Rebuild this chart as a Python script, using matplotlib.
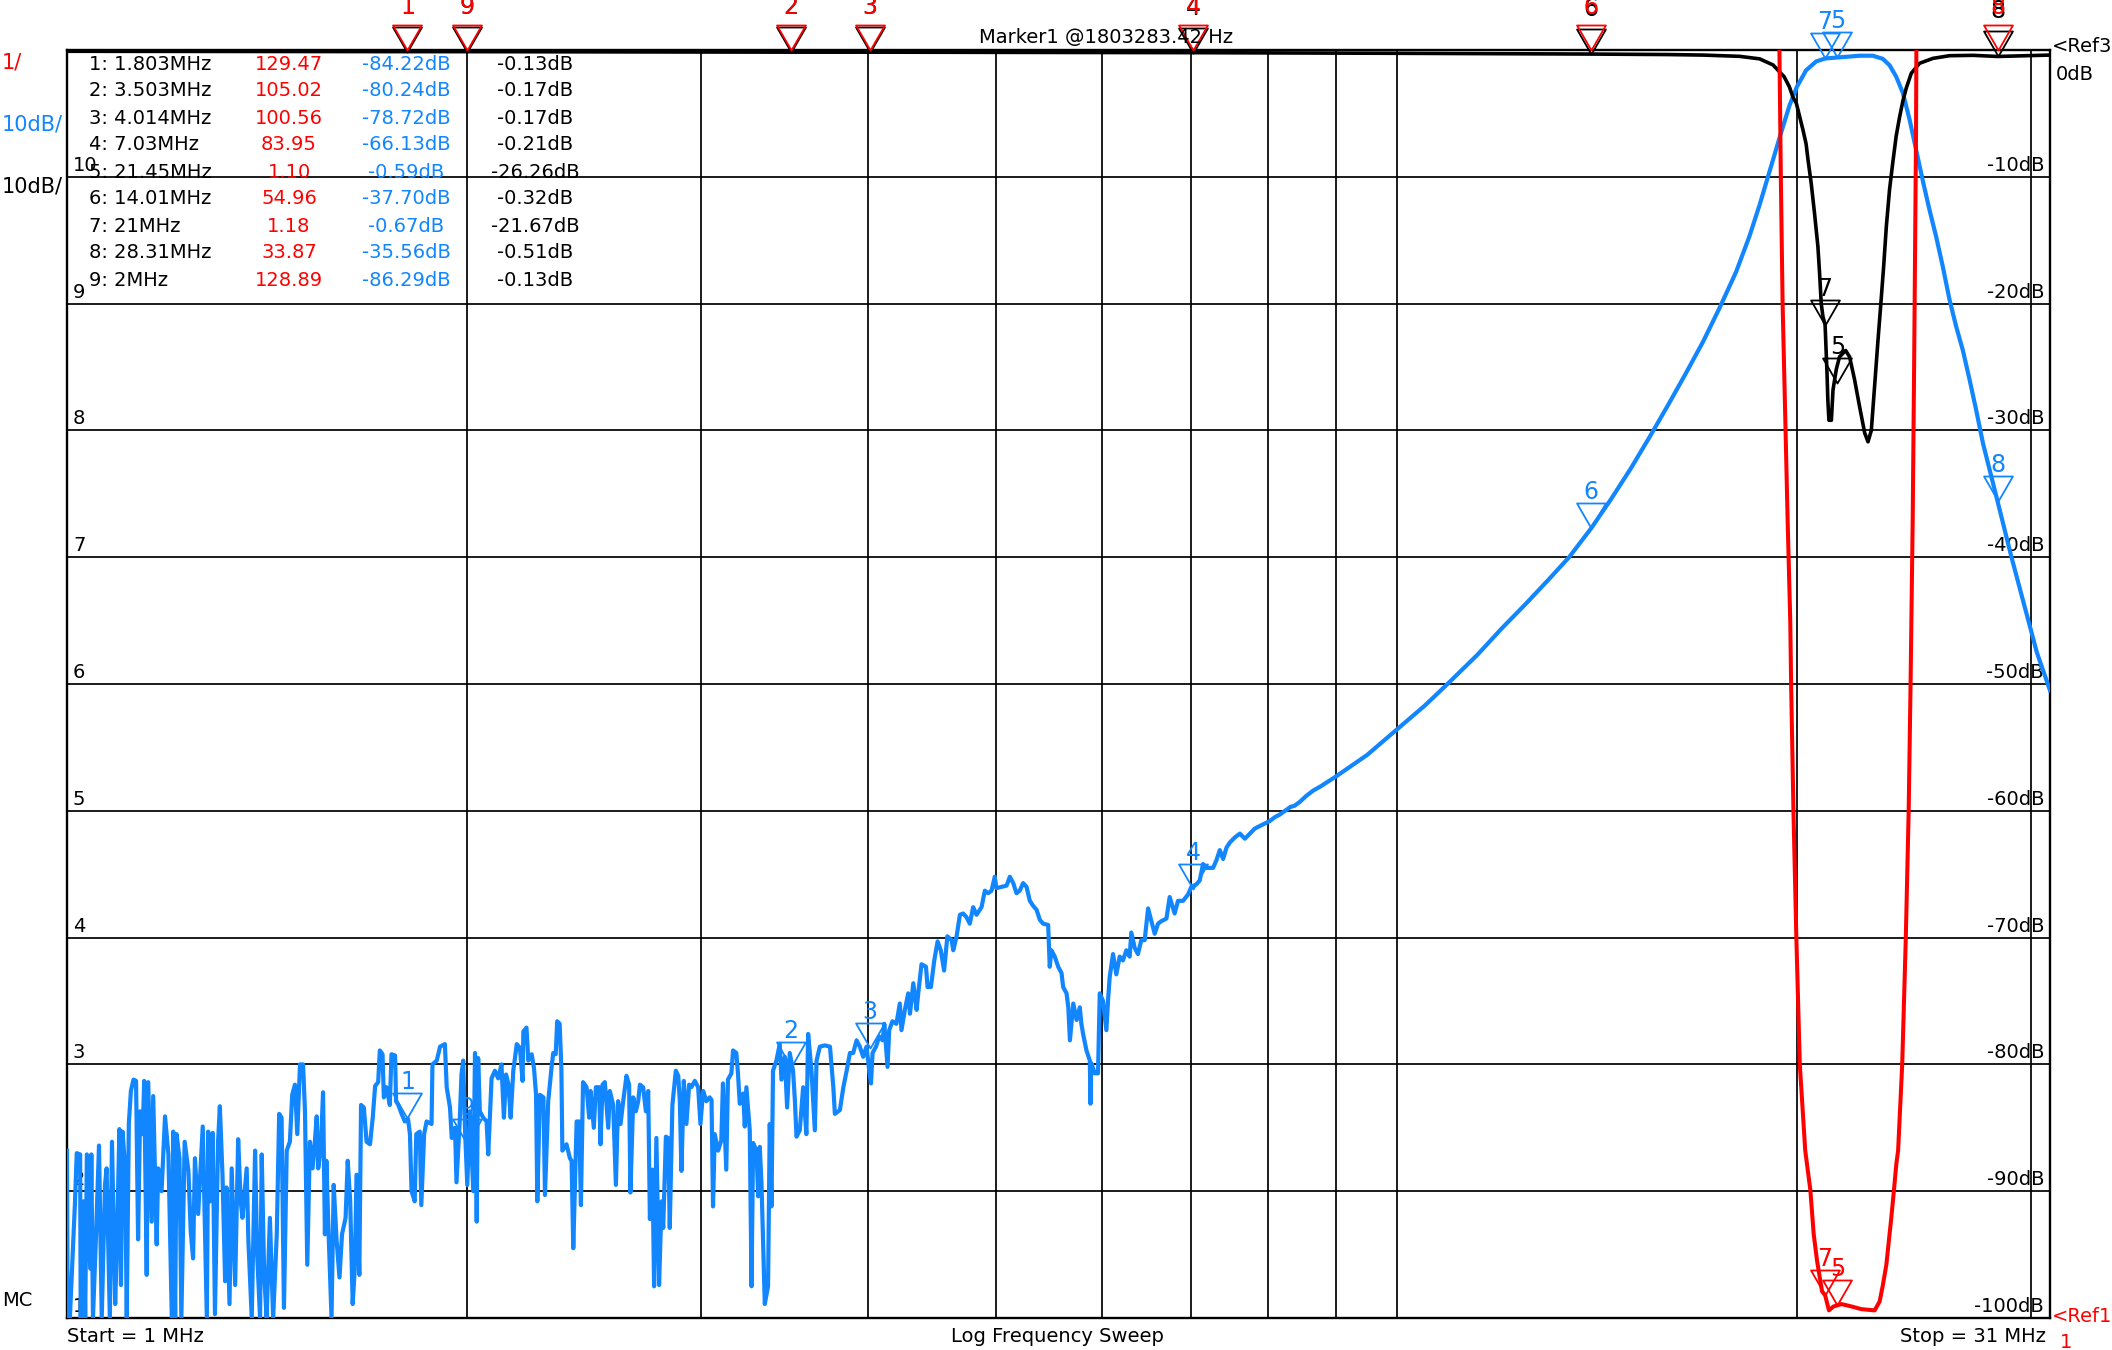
import numpy as np
import matplotlib
matplotlib.use("Agg")
import matplotlib.pyplot as plt
from matplotlib.path import Path

plt.rcParams['font.family'] = ['DejaVu Sans']

# ---------------- data ----------------
F_START, F_STOP = 1.0, 31.0
GRID_F = [2, 3, 4, 5, 6, 7, 8, 9, 10, 20, 30]
GRID_DB = [-10, -20, -30, -40, -50, -60, -70, -80, -90]
RIGHT_LABELS = ["-10dB", "-20dB", "-30dB", "-40dB", "-50dB", "-60dB", "-70dB", "-80dB", "-90dB", "-100dB"]
RIGHT_LABEL_DB = [-10, -20, -30, -40, -50, -60, -70, -80, -90, -100]
LEFT_LABELS = ["10", "9", "8", "7", "6", "5", "4", "3", "2", "1"]

# blue trace (transmission, dB) as (MHz, dB) pairs
BLUE_A = [(1.000,-86.8),(1.001,-100),(1.005,-100),(1.014,-90.8),(1.017,-87.0),(1.023,-87.1),(1.024,-100),(1.029,-90.8),(1.032,-100),(1.035,-87.1),(1.041,-96.1),(1.043,-87.1),(1.046,-100),(1.052,-92.9),(1.057,-86.4),(1.062,-100),(1.068,-89.5),(1.071,-88.2),(1.077,-100),(1.081,-86.1),(1.087,-98.9),(1.090,-94.7),(1.095,-85.1),(1.098,-97.4),(1.101,-85.3),(1.106,-88.2),(1.109,-100),(1.113,-84.7),(1.117,-82.1),(1.122,-81.2),(1.127,-81.3),(1.131,-93.8),(1.135,-83.7),(1.140,-85.5),(1.143,-81.3),(1.148,-96.6),(1.151,-81.4),(1.158,-92.4),(1.161,-82.5),(1.168,-94.2),(1.171,-88.2),(1.178,-90.0),(1.185,-84.1),(1.192,-87.1),(1.199,-100),(1.202,-85.3),(1.206,-100),(1.209,-85.5),(1.215,-87.4),(1.219,-100),(1.226,-86.1),(1.234,-88.4),(1.239,-93.2),(1.244,-95.3),(1.248,-87.4),(1.255,-91.8),(1.265,-84.9),(1.270,-93.2),(1.274,-100),(1.277,-85.3),(1.282,-90.8),(1.287,-85.4),(1.292,-99.7),(1.299,-86.1),(1.303,-83.3),(1.309,-88.7),(1.315,-97.1),(1.318,-89.7),(1.325,-98.9),(1.330,-88.2),(1.338,-97.4),(1.345,-85.9),(1.351,-90.8),(1.355,-92.1),(1.365,-88.2),(1.369,-93.9),(1.377,-100),(1.385,-86.8),(1.390,-95.0),(1.397,-100),(1.401,-87.1),(1.407,-96.6),(1.413,-100),(1.421,-92.1),(1.429,-100),(1.438,-93.4),(1.444,-83.9),(1.450,-84.2),(1.456,-99.2),(1.463,-86.8),(1.471,-86.1),(1.477,-82.4),(1.484,-81.6),(1.490,-85.5),(1.497,-80.0),(1.505,-80.0),(1.510,-83.7),(1.516,-95.8),(1.523,-86.1),(1.530,-88.2),(1.536,-86.1),(1.541,-84.1),(1.545,-88.2),(1.552,-86.6),(1.558,-82.2),(1.563,-93.4),(1.567,-87.6),(1.572,-92.4),(1.581,-100),(1.587,-89.5),(1.595,-93.9),(1.603,-96.8),(1.610,-93.4),(1.620,-92.1),(1.626,-87.6),(1.633,-90.8),(1.640,-98.9),(1.646,-96.1),(1.651,-88.7),(1.659,-96.6),(1.664,-83.2),(1.672,-83.4),(1.680,-86.1),(1.690,-86.3),(1.698,-84.2),(1.705,-81.7),(1.714,-81.4),(1.719,-78.9),(1.727,-79.2),(1.731,-82.6),(1.739,-81.8),(1.749,-83.2)]
BLUE_B = [(1.754,-79.2),(1.765,-79.3),(1.768,-82.9),(1.775,-83.2),(1.785,-83.9),(1.795,-84.5),(1.805,-84.3),(1.811,-85.5),(1.816,-90.0),(1.826,-90.8),(1.831,-85.5),(1.842,-85.3),(1.847,-91.1),(1.856,-85.5),(1.864,-84.5),(1.880,-84.7),(1.883,-80.0),(1.897,-79.7),(1.908,-78.6),(1.924,-78.4),(1.930,-81.8),(1.941,-83.4),(1.947,-85.8),(1.958,-85.0),(1.963,-89.3),(1.974,-84.5),(1.980,-80.8),(1.986,-79.7),(1.992,-85.0),(2.000,-89.5),(2.009,-83.7),(2.021,-90.0),(2.027,-79.1),(2.033,-92.4),(2.038,-79.5),(2.044,-83.7),(2.056,-84.2),(2.068,-84.5),(2.074,-87.1),(2.086,-81.1),(2.098,-80.5),(2.110,-81.1),(2.122,-80.0),(2.131,-84.2),(2.139,-80.8),(2.148,-81.6),(2.156,-84.2),(2.166,-80.5),(2.179,-78.4),(2.191,-78.7),(2.201,-81.3),(2.204,-77.4),(2.216,-77.1),(2.223,-79.7),(2.236,-79.2),(2.245,-80.3),(2.253,-82.4),(2.258,-90.8),(2.268,-82.4),(2.282,-82.6),(2.288,-90.3),(2.301,-82.9),(2.314,-80.3),(2.321,-79.1),(2.331,-79.2),(2.337,-76.6),(2.347,-76.8),(2.354,-80.3),(2.358,-86.8),(2.375,-86.3),(2.389,-87.4),(2.396,-87.6),(2.403,-94.5),(2.417,-84.5),(2.428,-84.5),(2.435,-91.1),(2.444,-81.4),(2.459,-81.8),(2.470,-84.2),(2.476,-82.1),(2.490,-85.0),(2.499,-81.8),(2.513,-81.8),(2.519,-86.3),(2.528,-81.6),(2.538,-81.4),(2.553,-85.0),(2.560,-82.1),(2.575,-83.2),(2.587,-89.5),(2.597,-82.9),(2.608,-84.7),(2.620,-82.9),(2.635,-80.9),(2.647,-81.6),(2.653,-90.1),(2.666,-82.6),(2.678,-83.7),(2.689,-82.9),(2.697,-81.6),(2.712,-81.8),(2.725,-83.7),(2.736,-82.1),(2.744,-92.2),(2.756,-88.3),(2.764,-97.5),(2.775,-85.8),(2.788,-97.4),(2.800,-90.8),(2.808,-92.9),(2.821,-85.7),(2.832,-85.8),(2.840,-92.9),(2.853,-83.2),(2.870,-80.5),(2.882,-80.9),(2.890,-82.9),(2.898,-88.4),(2.910,-81.3),(2.923,-84.7),(2.937,-81.6),(2.948,-81.8),(2.966,-81.3),(2.983,-81.8),(2.995,-84.7),(3.009,-82.1),(3.026,-82.9),(3.043,-82.6)]
BLUE_C = [(3.053,-82.8),(3.061,-91.2),(3.070,-85.5),(3.088,-86.8),(3.105,-86.0),(3.114,-81.5),(3.132,-88.3),(3.141,-81.2),(3.160,-80.7),(3.169,-78.9),(3.187,-79.1),(3.196,-80.7),(3.206,-83.1),(3.225,-82.3),(3.234,-84.9),(3.243,-81.8),(3.262,-85.2),(3.272,-97.5),(3.281,-86.2),(3.300,-86.8),(3.310,-90.4),(3.319,-86.5),(3.329,-89.4),(3.348,-98.9),(3.367,-97.5),(3.377,-84.7),(3.387,-91.2),(3.396,-80.5),(3.416,-79.7),(3.436,-78.4),(3.446,-81.2),(3.466,-79.4),(3.480,-83.4),(3.496,-79.1),(3.516,-80.5),(3.527,-82.8),(3.537,-85.7),(3.557,-85.2),(3.578,-81.8),(3.598,-85.5),(3.609,-77.6),(3.630,-80.5),(3.651,-85.2),(3.662,-79.7),(3.683,-78.6),(3.715,-78.5),(3.748,-78.6),(3.770,-81.8),(3.780,-83.9),(3.813,-83.6),(3.836,-81.8),(3.858,-80.5),(3.880,-79.1),(3.902,-79.1),(3.925,-78.1),(3.947,-78.6),(3.970,-79.4),(3.993,-78.6),(4.012,-80.5),(4.024,-81.5),(4.035,-79.1),(4.059,-78.6),(4.082,-77.8),(4.106,-78.1),(4.118,-76.8),(4.141,-80.2),(4.153,-77.3),(4.176,-76.6),(4.205,-76.8),(4.230,-75.2),(4.242,-77.3),(4.267,-75.7),(4.292,-74.4),(4.305,-76.0),(4.330,-73.6),(4.355,-75.7),(4.367,-74.4),(4.392,-72.1),(4.426,-72.3),(4.438,-73.9),(4.464,-73.9),(4.490,-71.8),(4.516,-70.3),(4.541,-71.0),(4.567,-72.6),(4.593,-69.9),(4.627,-70.2),(4.640,-71.0),(4.667,-69.9),(4.694,-68.2),(4.721,-68.1),(4.748,-68.4),(4.775,-68.9),(4.803,-67.6),(4.831,-68.2),(4.873,-67.6),(4.901,-66.3),(4.929,-66.5),(4.958,-66.3),(4.986,-65.2),(5.000,-66.1),(5.045,-66.0),(5.089,-65.9),(5.118,-65.2),(5.148,-65.7),(5.177,-66.5),(5.206,-66.3),(5.237,-65.7),(5.268,-66.0),(5.298,-67.1),(5.329,-67.5),(5.360,-67.8),(5.391,-68.6),(5.421,-68.9),(5.469,-69.0),(5.484,-72.3),(5.500,-71.0),(5.532,-71.5),(5.565,-72.3),(5.597,-72.8),(5.613,-73.9),(5.646,-74.4),(5.663,-75.5),(5.679,-78.1),(5.712,-75.2),(5.745,-76.5),(5.777,-75.5),(5.793,-76.8),(5.810,-77.6),(5.844,-78.9),(5.878,-79.7),(5.885,-83.1)]
BLUE_D = [(5.893,-79.9),(5.928,-80.7),(5.962,-80.7),(5.980,-74.4),(6.014,-75.0),(6.049,-77.3),(6.066,-75.0),(6.084,-73.1),(6.119,-71.3),(6.154,-72.9),(6.190,-71.5),(6.225,-71.8),(6.262,-71.0),(6.298,-71.5),(6.316,-69.6),(6.353,-70.8),(6.389,-71.3),(6.426,-70.2),(6.464,-70.2),(6.502,-67.7),(6.540,-68.7),(6.577,-69.7),(6.615,-68.9),(6.654,-68.7),(6.712,-68.5),(6.750,-66.8),(6.808,-68.1),(6.848,-67.1),(6.908,-67.1),(6.968,-66.6),(7.008,-66.0),(7.069,-65.8),(7.110,-65.5),(7.151,-64.2),(7.192,-64.5),(7.234,-64.5),(7.277,-64.5),(7.319,-63.9),(7.362,-63.1),(7.404,-63.8),(7.448,-62.9),(7.491,-62.5),(7.556,-62.1),(7.622,-61.8),(7.689,-62.2),(7.756,-61.8),(7.822,-61.4),(7.891,-61.2),(7.959,-61.0),(8.029,-60.8),(8.099,-60.5),(8.167,-60.3),(8.243,-60.0),(8.319,-59.7),(8.380,-59.6),(8.455,-59.3),(8.556,-58.8),(8.656,-58.4),(8.758,-58.1)]
BLUE_E = [(9.0,-57.3),(9.5,-55.6),(10.0,-53.6),(10.5,-51.7),(10.92,-50.0),(11.5,-47.7),(12.0,-45.6),(12.5,-43.7),(13.0,-41.8),(13.48,-40.0),(14.01,-37.7),(14.5,-35.4),(15.0,-33.0),(15.5,-30.5),(16.0,-28.0),(16.5,-25.5),(17.0,-23.0),(17.5,-20.3),(18.0,-17.5),(18.42,-14.7),(18.75,-12.2),(19.07,-9.6),(19.41,-6.9),(19.74,-4.4),(20.0,-2.9),(20.32,-1.6),(20.68,-0.9),(21.0,-0.67),(21.45,-0.59),(22.3,-0.45),(22.81,-0.45),(23.21,-0.7),(23.48,-1.2),(23.75,-2.1),(24.03,-3.4),(24.31,-5.5),(24.59,-7.9),(24.87,-10.3),(25.16,-12.6),(25.45,-14.7),(25.75,-17.1),(26.05,-19.7),(26.35,-21.8),(26.66,-23.7),(26.97,-26.0),(27.28,-28.4),(27.60,-31.0),(28.31,-35.6),(29.0,-40.0),(29.6,-43.5),(30.3,-47.5),(31.0,-50.5)]

# black trace (reflection, dB)
BLACK = [(1.0,-0.10),(1.803,-0.13),(2.0,-0.13),(3.503,-0.17),(4.014,-0.17),(7.03,-0.21),(10.0,-0.26),(14.01,-0.32),(16.0,-0.36),(17.0,-0.40),(18.11,-0.50),(18.75,-0.70),(19.19,-1.18),(19.56,-2.1),(19.74,-2.9),(19.86,-3.7),(19.98,-4.2),(20.10,-5.3),(20.21,-6.3),(20.32,-7.4),(20.39,-8.7),(20.50,-10.5),(20.62,-12.9),(20.74,-15.5),(20.80,-17.6),(20.86,-20.0),(20.92,-21.0),(21.0,-21.67),(21.07,-25.5),(21.10,-27.6),(21.14,-29.2),(21.23,-29.2),(21.29,-26.8),(21.41,-25.2),(21.53,-24.2),(21.76,-23.7),(21.91,-24.2),(22.10,-26.0),(22.29,-28.1),(22.49,-30.2),(22.62,-30.9),(22.75,-30.0),(22.88,-26.5),(23.01,-23.0),(23.14,-19.7),(23.24,-17.1),(23.35,-13.9),(23.48,-11.0),(23.61,-8.9),(23.75,-6.8),(23.89,-5.3),(24.03,-4.0),(24.17,-3.0),(24.38,-1.84),(24.73,-1.05),(25.31,-0.66),(26.05,-0.45),(27.13,-0.42),(28.31,-0.51),(31.0,-0.40)]

# red trace (VSWR, 1/div, ref 1 at bottom)
RED = [(1.0,140.0),(1.803,129.47),(2.0,128.89),(3.503,105.02),(4.014,100.56),(7.03,83.95),(14.01,54.96),(19.0,20.0),(19.38,11.5),(19.45,10.0),(19.51,9.0),(19.60,8.1),(19.68,7.3),(19.77,6.5),(19.80,6.0),(19.88,5.0),(19.98,4.0),(20.10,3.0),(20.29,2.32),(20.47,2.01),(20.59,1.66),(20.71,1.45),(20.89,1.21),(21.0,1.18),(21.14,1.06),(21.3,1.09),(21.45,1.10),(21.6,1.11),(22.0,1.09),(22.36,1.07),(22.88,1.06),(23.08,1.13),(23.21,1.26),(23.35,1.42),(23.55,1.79),(23.66,2.01),(23.76,2.22),(23.83,2.32),(24.0,3.0),(24.15,4.0),(24.27,5.0),(24.35,6.0),(24.44,7.3),(24.50,8.5),(24.58,10.3),(24.62,12.0),(28.31,33.87),(31.0,40.0)]

# marker table
MARKER_ID = [1, 2, 3, 4, 5, 6, 7, 8, 9]
MARKER_FREQ_TXT = ["1.803MHz", "3.503MHz", "4.014MHz", "7.03MHz", "21.45MHz", "14.01MHz", "21MHz", "28.31MHz", "2MHz"]
MARKER_F = [1.803, 3.503, 4.014, 7.03, 21.45, 14.01, 21.0, 28.31, 2.0]
MARKER_VSWR = [129.47, 105.02, 100.56, 83.95, 1.10, 54.96, 1.18, 33.87, 128.89]
MARKER_BLUE = [-84.22, -80.24, -78.72, -66.13, -0.59, -37.70, -0.67, -35.56, -86.29]
MARKER_BLACK = [-0.13, -0.17, -0.17, -0.21, -26.26, -0.32, -21.67, -0.51, -0.13]

# ---------------- drawing ----------------
BLUE = '#1186FF'
RED_C = '#FF0000'
W, H, DPI = 2112, 1350, 100
L, R, T, B = 67, 2050, 50, 1318

fig = plt.figure(figsize=(W / DPI, H / DPI), dpi=DPI, facecolor='white')
ax = fig.add_axes([L / W, 1 - B / H, (R - L) / W, (B - T) / H])
ax.set_xscale('log')
ax.set_xlim(F_START, F_STOP)
ax.set_ylim(-100, 0)
ax.set_xticks([]); ax.set_xticks([], minor=True); ax.set_yticks([])
for s in ax.spines.values():
    s.set_linewidth(1.7)
    s.set_color('black')

for f in GRID_F:
    ax.axvline(f, color='black', lw=1.25, zorder=1)
for d in GRID_DB:
    ax.axhline(d, color='black', lw=1.25, zorder=1)

for lab, d in zip(RIGHT_LABELS, RIGHT_LABEL_DB):
    ax.annotate(lab, xy=(F_STOP, d), xytext=(-6, 6), textcoords='offset pixels',
                ha='right', va='baseline', fontsize=14, color='black', zorder=2)
for i, lab in enumerate(LEFT_LABELS):
    d = -10 * (i + 1)
    ax.annotate(lab, xy=(F_START, d), xytext=(6, 6), textcoords='offset pixels',
                ha='left', va='baseline', fontsize=14, color='black', zorder=2)

bf, bd = zip(*(BLUE_A + BLUE_B + BLUE_C + BLUE_D + BLUE_E))
ax.plot(bf, bd, color=BLUE, lw=3.0, zorder=3)
kf, kd = zip(*BLACK)
ax.plot(kf, kd, color='black', lw=2.6, zorder=3)

axr = ax.twinx()
axr.set_ylim(1, 11)
axr.set_yticks([])
axr.set_xticks([]); axr.set_xticks([], minor=True)
for s in axr.spines.values():
    s.set_visible(False)
rf, rv = zip(*RED)
axr.plot(rf, rv, color=RED_C, lw=2.9, zorder=3)

TRI = Path([(-15, 26), (15, 26), (0, 0), (-15, 26)],
           [Path.MOVETO, Path.LINETO, Path.LINETO, Path.CLOSEPOLY])


def draw_marker(a, f, y, n, color, off):
    a.plot([f], [y], linestyle='none', marker=TRI, markersize=36,
           markerfacecolor='none', markeredgecolor=color, markeredgewidth=1.3,
           clip_on=False, zorder=5)
    a.annotate(str(n), xy=(f, y), xytext=(0, off), textcoords='offset pixels',
               ha='center', va='baseline', fontsize=17, color=color,
               annotation_clip=False, zorder=5)


for n, f, k in zip(MARKER_ID, MARKER_F, MARKER_BLACK):
    draw_marker(ax, f, k, n, 'black', 38 if k > -1 else 29)
for n, f, b in zip(MARKER_ID, MARKER_F, MARKER_BLUE):
    draw_marker(ax, f, b, n, BLUE, 29)
for n, f, v in zip(MARKER_ID, MARKER_F, MARKER_VSWR):
    draw_marker(axr, f, min(v, 11), n, RED_C, 36 if v >= 11 else 29)


def ftxt(x, y, s, **kw):
    kw.setdefault('fontsize', 14)
    fig.text(x / W, 1 - y / H, s, **kw)


for i in range(len(MARKER_ID)):
    y = 64 + 27 * i
    ftxt(89, y, f"{MARKER_ID[i]}: {MARKER_FREQ_TXT[i]}", ha='left', va='center', color='black')
    ftxt(289, y, f"{MARKER_VSWR[i]:.2f}", ha='center', va='center', color=RED_C)
    ftxt(406, y, f"{MARKER_BLUE[i]:.2f}dB", ha='center', va='center', color=BLUE)
    ftxt(535, y, f"{MARKER_BLACK[i]:.2f}dB", ha='center', va='center', color='black')

ftxt(2, 63, "1/", ha='left', va='center', color=RED_C, fontsize=15)
ftxt(2, 124, "10dB/", ha='left', va='center', color=BLUE, fontsize=15)
ftxt(2, 187, "10dB/", ha='left', va='center', color='black', fontsize=15)
ftxt(2, 1301, "MC", ha='left', va='center', color='black')
ftxt(1106, 38, "Marker1 @1803283.42 Hz", ha='center', va='center', color='black')
ftxt(2052, 47, "<Ref3", ha='left', va='center', color='black')
ftxt(2056, 74, "0dB", ha='left', va='center', color='black')
ftxt(2052, 1316, "<Ref1", ha='left', va='center', color=RED_C)
ftxt(2060, 1343, "1", ha='left', va='center', color=RED_C)
ftxt(67, 1336, "Start = 1 MHz", ha='left', va='center', color='black')
ftxt(1057, 1336, "Log Frequency Sweep", ha='center', va='center', color='black')
ftxt(2046, 1336, "Stop = 31 MHz", ha='right', va='center', color='black')

fig.savefig('out.png', dpi=DPI, facecolor='white')
